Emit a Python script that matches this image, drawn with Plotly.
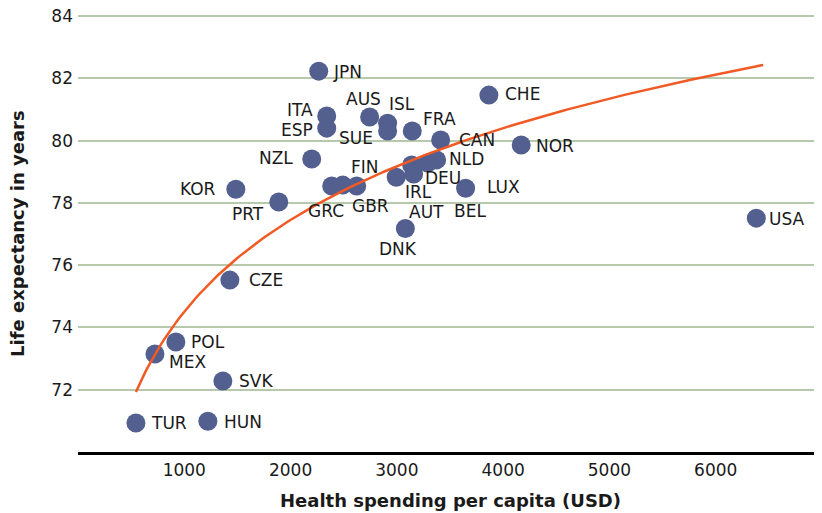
import numpy as np
import plotly.graph_objects as go

countries = ["TUR", "HUN", "SVK", "MEX", "POL", "CZE", "PRT", "KOR", "NZL", "JPN",
             "ITA", "ESP", "AUS", "ISL", "SUE", "FRA", "CAN", "CHE", "NOR", "LUX",
             "DNK", "GRC", "FIN", "GBR", "IRL", "AUT", "DEU", "BEL", "NLD", "USA"]
spending = [545, 1222, 1363, 724, 921, 1429, 1889, 1485, 2199, 2265,
            2340, 2340, 2744, 2913, 2913, 3145, 3412, 3866, 4170, 3647,
            3080, 2387, 2491, 2622, 2994, 3139, 3158, 3289, 3374, 6382]
life_exp = [70.93, 70.99, 72.28, 73.15, 73.53, 75.52, 78.03, 78.44, 79.41, 82.23,
            80.79, 80.40, 80.76, 80.56, 80.31, 80.31, 80.02, 81.46, 79.86, 78.47,
            77.18, 78.54, 78.57, 78.54, 78.82, 79.22, 78.93, 79.28, 79.38, 77.51]

# logarithmic trend line: y = a + b*ln(x)
trend_a = 45.15
trend_b = 4.25
trend_x_start = 545
trend_x_end = 6447

x_ticks = [1000, 2000, 3000, 4000, 5000, 6000]
y_ticks = [72, 74, 76, 78, 80, 82, 84]

# label placement: (anchor, dx px, dy px downward)
label_pos = {
    "JPN": ("left", 12, 1), "CHE": ("left", 14, -1), "NOR": ("left", 13, 1),
    "LUX": ("left", 19, -1), "USA": ("left", 11, 1), "CZE": ("left", 17, 0),
    "POL": ("left", 13, 0), "SVK": ("left", 14, 0), "TUR": ("left", 13, 0),
    "HUN": ("left", 14, 1), "MEX": ("left", 12, 8), "KOR": ("right", -18, 0),
    "NZL": ("right", -17, -1), "PRT": ("right", -13, 12), "ITA": ("right", -12, -6),
    "ESP": ("right", -12, 2), "AUS": ("center", -6, -18), "ISL": ("center", 14, -19),
    "SUE": ("right", -13, 7), "FRA": ("left", 9, -12), "CAN": ("left", 16, 0),
    "NLD": ("left", 10, -1), "DEU": ("left", 9, 4), "IRL": ("left", 7, 15),
    "AUT": ("center", 15, 47), "BEL": ("center", 42, 48), "GRC": ("center", -6, 25),
    "GBR": ("center", 14, 20), "FIN": ("center", 22, -18), "DNK": ("center", -7, 21),
}

font_family = "DejaVu Sans, sans-serif"
text_color = "#1a1a1a"

tx = np.linspace(trend_x_start, trend_x_end, 200)
ty = trend_a + trend_b * np.log(tx)

fig = go.Figure()
fig.add_trace(go.Scatter(
    x=spending, y=life_exp, mode="markers",
    marker=dict(size=19, color="#535f8f"),
    hoverinfo="text", text=countries, showlegend=False,
))
fig.add_trace(go.Scatter(
    x=tx, y=ty, mode="lines",
    line=dict(color="#f15a24", width=2.5),
    hoverinfo="skip", showlegend=False,
))

for c, xv, yv in zip(countries, spending, life_exp):
    anchor, dx, dy = label_pos[c]
    fig.add_annotation(
        x=xv, y=yv, text=c, showarrow=False,
        xanchor=anchor, yanchor="middle", xshift=dx, yshift=-dy,
        font=dict(family=font_family, size=17, color=text_color),
    )

# axis titles
fig.add_annotation(
    xref="paper", yref="paper", x=0.5, y=-0.110, xanchor="center", yanchor="middle",
    text="<b>Health spending per capita (USD)</b>", showarrow=False,
    font=dict(family=font_family, size=18, color=text_color),
)
fig.add_annotation(
    xref="paper", yref="paper", x=-0.082, y=0.5, xanchor="center", yanchor="middle",
    text="<b>Life expectancy in years</b>", showarrow=False, textangle=-90,
    font=dict(family=font_family, size=18, color=text_color),
)

# the page body adds an 8 px offset, so the figure is sized to end at the window edge
fig.update_layout(
    width=814, height=505,
    margin=dict(l=70, r=0, t=6, b=61, autoexpand=False),
    paper_bgcolor="white", plot_bgcolor="white",
    font=dict(family=font_family, size=17, color=text_color),
    xaxis=dict(
        range=[0, 7000], tickvals=x_ticks, showgrid=False, zeroline=False,
        showline=True, linecolor="black", linewidth=3, ticks="",
        tickfont=dict(size=17, color=text_color), automargin=False,
        ticklabelstandoff=1,
    ),
    yaxis=dict(
        range=[70, 84.065], tickvals=y_ticks, showgrid=True, gridcolor="#b7c9ad",
        gridwidth=1.5, zeroline=False, showline=False, ticks="",
        tickfont=dict(size=17, color=text_color), automargin=False,
        ticklabelstandoff=4, ticklabeloverflow="allow",
    ),
)

fig.write_html("out.html")
